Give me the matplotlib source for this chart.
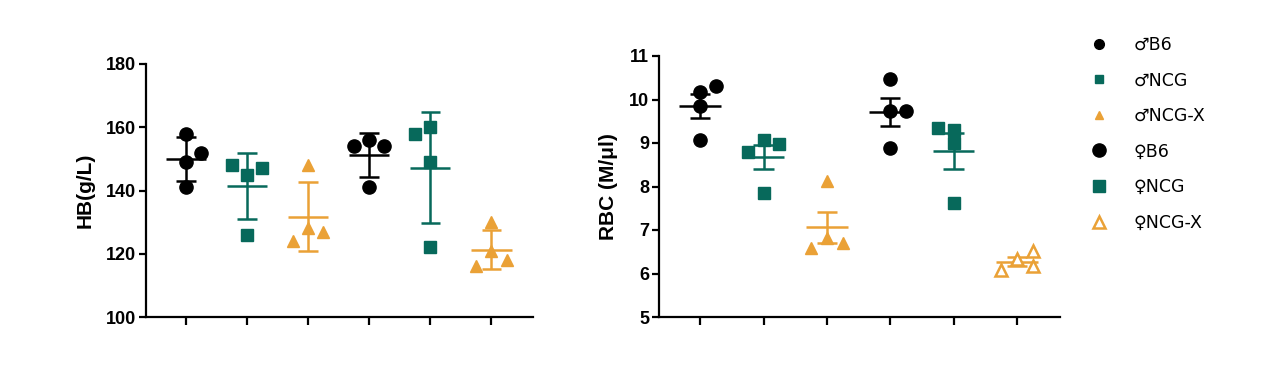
import matplotlib.pyplot as plt
import numpy as np
from matplotlib.lines import Line2D

plt.rcParams["font.family"] = ["Liberation Sans", "DejaVu Sans"]

# groups, in plotting order
groups = ["♂B6", "♂NCG", "♂NCG-X", "♀B6", "♀NCG", "♀NCG-X"]
colors = ["#000000", "#07695b", "#eaa136", "#000000", "#07695b", "#eaa136"]
markers = ["o", "s", "^", "o", "s", "^"]

# HB (g/L), four mice per group
hb_values = [
    [158, 152, 149, 141],
    [148, 145, 147, 126],
    [148, 124, 128, 127],
    [154, 156, 154, 141],
    [158, 160, 149, 122],
    [130, 121, 116, 118],
]
hb_jitter = [
    [0, 0.25, 0, 0],
    [-0.25, 0, 0.25, 0],
    [0, -0.25, 0, 0.25],
    [-0.25, 0, 0.25, 0],
    [-0.25, 0, 0, 0],
    [0, 0, -0.25, 0.25],
]

# RBC (M/ul)
rbc_values = [
    [10.17, 10.31, 9.84, 9.08],
    [8.79, 9.06, 8.98, 7.85],
    [8.13, 6.59, 6.82, 6.69],
    [10.46, 9.73, 9.74, 8.89],
    [9.35, 9.31, 9.01, 7.61],
    [6.07, 6.33, 6.52, 6.18],
]
rbc_jitter = [
    [0, 0.25, 0, 0],
    [-0.25, 0, 0.25, 0],
    [0, -0.25, 0, 0.25],
    [0, 0, 0.25, 0],
    [-0.25, 0, 0, 0],
    [-0.25, 0, 0.25, 0.25],
]

msize = {"o": 9.5, "s": 8.8, "^": 8.5}


def style_axes(ax, ylim, yticks, ylabel):
    ax.set_xlim(-0.65, 5.68)
    ax.set_ylim(*ylim)
    ax.set_yticks(yticks)
    ax.set_xticks(range(6))
    ax.set_xticklabels([])
    for s in ["top", "right"]:
        ax.spines[s].set_visible(False)
    for s in ["left", "bottom"]:
        ax.spines[s].set_linewidth(1.6)
    ax.tick_params(axis="y", length=5, width=1.6, labelsize=13, pad=2)
    ax.tick_params(axis="x", length=6, width=1.6)
    for lab in ax.get_yticklabels():
        lab.set_fontweight("bold")
    ax.set_ylabel(ylabel, fontsize=15, fontweight="bold", labelpad=8)


def draw_group(ax, i, vals, jit, err_kind, open_marker=False):
    vals = np.asarray(vals, dtype=float)
    c = colors[i]
    m = markers[i]
    mean = vals.mean()
    err = vals.std(ddof=1)
    if err_kind == "sem":
        err = err / np.sqrt(len(vals))
    lw = 1.8
    ax.hlines(mean, i - 0.33, i + 0.33, color=c, lw=lw, zorder=2)
    ax.vlines(i, mean - err, mean + err, color=c, lw=lw, zorder=2)
    ax.hlines([mean - err, mean + err], i - 0.16, i + 0.16, color=c, lw=lw, zorder=2)
    xs = i + np.asarray(jit)
    if open_marker:
        ax.plot(xs, vals, ls="none", marker=m, ms=msize[m] - 0.5, mfc="white",
                mec=c, mew=1.8, zorder=3)
    else:
        ax.plot(xs, vals, ls="none", marker=m, ms=msize[m], color=c, mec=c, zorder=3)


fig = plt.figure(figsize=(12.71, 3.69), dpi=100)
ax1 = fig.add_axes([146 / 1271, 52 / 369, 387 / 1271, 253 / 369])
ax2 = fig.add_axes([659 / 1271, 52 / 369, 401 / 1271, 261 / 369])

for i in range(6):
    draw_group(ax1, i, hb_values[i], hb_jitter[i], "sd")
    draw_group(ax2, i, rbc_values[i], rbc_jitter[i], "sem", open_marker=(i == 5))

style_axes(ax1, (100, 180), [100, 120, 140, 160, 180], "HB(g/L)")
style_axes(ax2, (5, 11), range(5, 12), "RBC (M/μl)")

# legend: male markers drawn smaller than female ones
handles = []
for i, g in enumerate(groups):
    m = markers[i]
    size = (msize[m] - 2.5) if i < 3 else msize[m]
    if i == 5:
        h = Line2D([], [], ls="none", marker=m, ms=size - 0.5, mfc="white",
                   mec=colors[i], mew=1.8)
    else:
        h = Line2D([], [], ls="none", marker=m, ms=size, color=colors[i])
    handles.append(h)
fig.legend(handles, groups, loc="upper left", bbox_to_anchor=(1083 / 1271, 1 - 29 / 369),
           frameon=False, prop={"family": "DejaVu Sans", "size": 12.5},
           handlelength=1.0, handletextpad=1.5, labelspacing=1.01, borderaxespad=0)

fig.savefig("out.png", dpi=100)
